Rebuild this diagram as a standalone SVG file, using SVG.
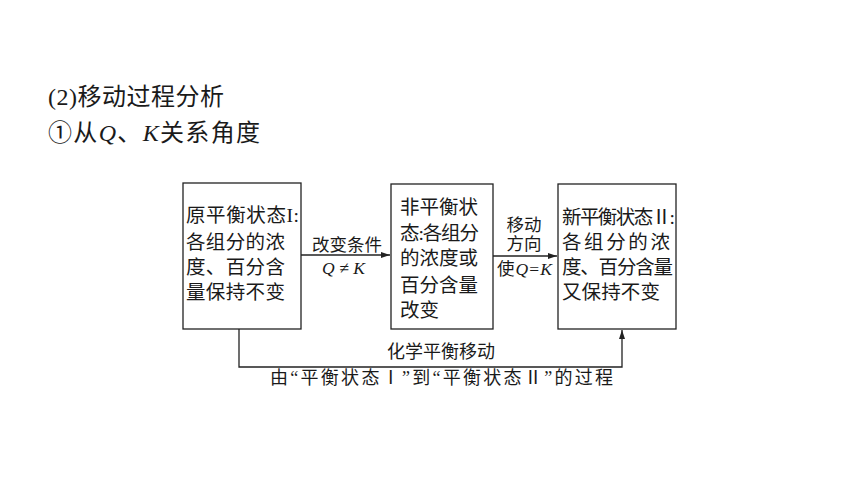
<svg xmlns="http://www.w3.org/2000/svg" width="860" height="484" viewBox="0 0 860 484">
<defs>
<style>
.t{font-family:"Liberation Serif","Noto Sans CJK SC",serif;fill:#1a1a1a}
.h{font-size:24px}
.b{font-size:19.5px}
.s{font-size:17.5px}
.s2{font-size:18px}
.box{fill:#fff;stroke:#222;stroke-width:1.3}
.ln{fill:none;stroke:#222;stroke-width:1.3}
.i{font-style:italic}
</style>
<marker id="ar" markerWidth="10" markerHeight="8" refX="9" refY="4" orient="auto" markerUnits="userSpaceOnUse">
<path d="M0,1 L9,4 L0,7 z" fill="#222"/>
</marker>
</defs>
<rect width="860" height="484" fill="#fff"/>
<g id="heading">
<text class="t h" x="48" y="105" textLength="176">(2)移动过程分析</text>
<text class="t h" x="48" y="141" textLength="212">①从<tspan class="i">Q</tspan>、<tspan class="i">K</tspan>关系角度</text>
</g>
<g id="connectors">
<line class="ln" x1="301" y1="255" x2="390" y2="255" marker-end="url(#ar)"/>
<line class="ln" x1="493" y1="256" x2="557" y2="256" marker-end="url(#ar)"/>
<polyline class="ln" points="239,329 239,367 622,367 622,330" marker-end="url(#ar)"/>
<text class="t s" x="347" y="251" text-anchor="middle">改变条件</text>
<text class="t s i" x="322" y="274" textLength="43">Q≠K</text>
<text class="t s" x="524" y="231" text-anchor="middle">移动</text>
<text class="t s" x="524" y="250" text-anchor="middle">方向</text>
<text class="t s" x="497" y="275" textLength="55">使<tspan class="i">Q</tspan>=<tspan class="i">K</tspan></text>
<text class="t s2" x="441" y="358" text-anchor="middle">化学平衡移动</text>
<text class="t s2" x="270" y="384" textLength="343">由“平衡状态Ⅰ”到“平衡状态Ⅱ”的过程</text>
</g>
<g id="node1">
<rect class="box" x="183" y="183" width="118" height="146"/>
<text class="t b" x="186" y="222" textLength="113">原平衡状态I:</text>
<text class="t b" x="186" y="249" textLength="99">各组分的浓</text>
<text class="t b" x="186" y="274" textLength="99">度、百分含</text>
<text class="t b" x="186" y="299" textLength="99">量保持不变</text>
</g>
<g id="node2">
<rect class="box" x="391" y="184" width="102" height="145"/>
<text class="t b" x="400" y="214" textLength="78">非平衡状</text>
<text class="t b" x="400" y="240" textLength="79">态:各组分</text>
<text class="t b" x="400" y="265" textLength="78">的浓度或</text>
<text class="t b" x="400" y="292" textLength="78">百分含量</text>
<text class="t b" x="400" y="317">改变</text>
</g>
<g id="node3">
<rect class="box" x="558" y="184" width="118" height="145"/>
<text class="t b" x="562" y="224" textLength="113">新平衡状态Ⅱ:</text>
<text class="t b" x="562" y="249" textLength="108">各组分的浓</text>
<text class="t b" x="562" y="274" textLength="111">度、百分含量</text>
<text class="t b" x="562" y="299" textLength="98">又保持不变</text>
</g>
</svg>
